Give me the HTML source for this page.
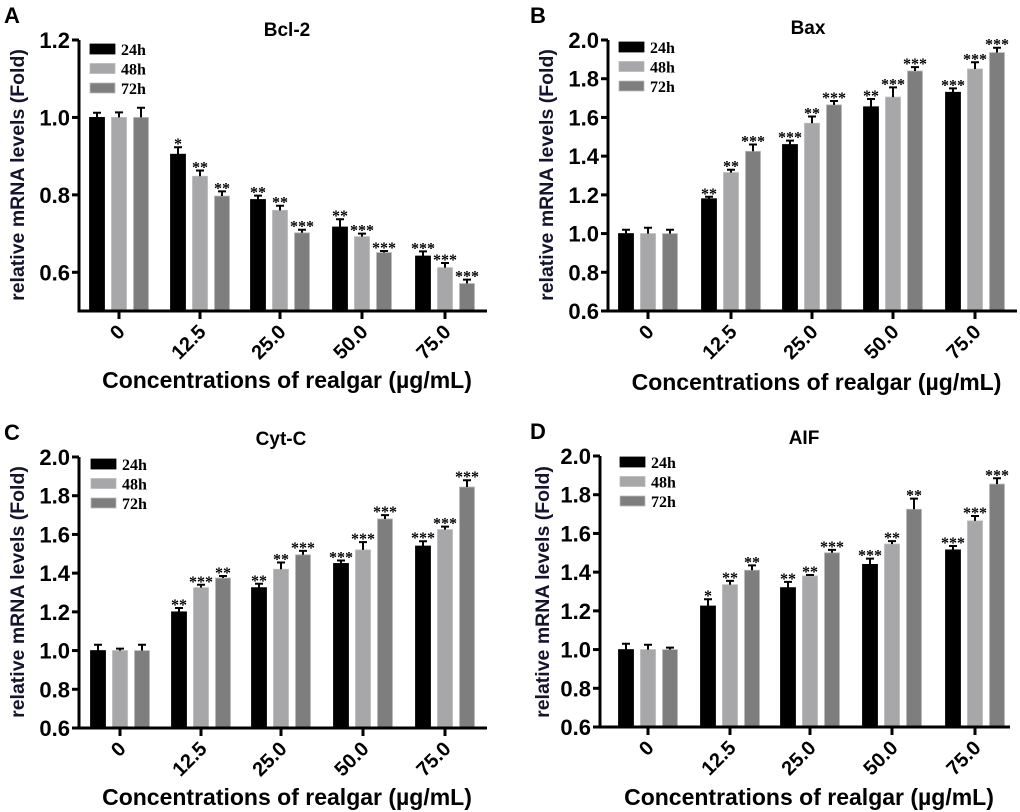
<!DOCTYPE html>
<html><head><meta charset="utf-8"><style>
html,body{margin:0;padding:0;background:#fff;}
svg{display:block;}
text{font-family:"Liberation Sans",sans-serif;}
.ser{font-family:"Liberation Serif",serif;font-weight:bold;}
</style></head><body>
<svg id="fig" width="1020" height="812" viewBox="0 0 1020 812"></svg>
<script>
const categories = ["0","12.5","25.0","50.0","75.0"];
const seriesNames = ["24h","48h","72h"];
// Panel A Bcl-2
const bcl2_24 = [1.0,0.905,0.788,0.717,0.642];
const bcl2_48 = [1.0,0.848,0.760,0.692,0.612];
const bcl2_72 = [1.0,0.797,0.702,0.651,0.571];
const bcl2_err24 = [0.012,0.018,0.010,0.020,0.012];
const bcl2_err48 = [0.013,0.015,0.012,0.008,0.012];
const bcl2_err72 = [0.025,0.012,0.008,0.004,0.010];
const bcl2_sig24 = ["","*","**","**","***"];
const bcl2_sig48 = ["","**","**","***","***"];
const bcl2_sig72 = ["","**","***","***","***"];
const bcl2_ticks = [0.6,0.8,1.0,1.2];
// Panel B Bax
const bax_24 = [1.0,1.18,1.46,1.655,1.73];
const bax_48 = [1.0,1.315,1.57,1.705,1.85];
const bax_72 = [1.0,1.425,1.665,1.84,1.935];
const bax_err24 = [0.02,0.01,0.02,0.04,0.02];
const bax_err48 = [0.03,0.015,0.035,0.05,0.035];
const bax_err72 = [0.02,0.035,0.02,0.02,0.025];
const bax_sig24 = ["","**","***","**","***"];
const bax_sig48 = ["","**","**","***","***"];
const bax_sig72 = ["","***","***","***","***"];
// Panel C Cyt-C
const cyt_24 = [1.0,1.2,1.325,1.45,1.54];
const cyt_48 = [1.0,1.325,1.42,1.52,1.625];
const cyt_72 = [1.0,1.375,1.495,1.68,1.845];
const cyt_err24 = [0.03,0.02,0.02,0.015,0.025];
const cyt_err48 = [0.01,0.015,0.035,0.04,0.015];
const cyt_err72 = [0.03,0.01,0.02,0.02,0.035];
const cyt_sig24 = ["","**","**","***","***"];
const cyt_sig48 = ["","***","**","***","***"];
const cyt_sig72 = ["","**","***","***","***"];
// Panel D AIF
const aif_24 = [1.0,1.225,1.32,1.44,1.515];
const aif_48 = [1.0,1.335,1.38,1.545,1.665];
const aif_72 = [1.0,1.41,1.5,1.725,1.855];
const aif_err24 = [0.03,0.035,0.03,0.03,0.02];
const aif_err48 = [0.025,0.02,0.005,0.015,0.025];
const aif_err72 = [0.01,0.025,0.015,0.055,0.03];
const aif_sig24 = ["","*","**","***","***"];
const aif_sig48 = ["","**","**","**","***"];
const aif_sig72 = ["","**","***","**","***"];
const up_ticks = [0.6,0.8,1.0,1.2,1.4,1.6,1.8,2.0];

const colors = ["#000000","#a7a7a9","#7e7e7e"];
const NS = "http://www.w3.org/2000/svg";
const svg = document.getElementById("fig");
function mk(tag, attrs, parent, txt){
  const e = document.createElementNS(NS, tag);
  for (const k in attrs) e.setAttribute(k, attrs[k]);
  if (txt !== undefined) e.textContent = txt;
  (parent||svg).appendChild(e);
  return e;
}

const panels = [
  {id:"a", letter:"A", title:"Bcl-2", ax:79, x1:487, yTop:40, yBot:311, vTop:1.2, vBot:0.5, ticks:bcl2_ticks,
   cats:[119,200,280,362,445], titleX:287, titleY:40, lx:90, ly:44, ylabX:24, ylabY:175, xtY:388,
   vals:[bcl2_24,bcl2_48,bcl2_72], errs:[bcl2_err24,bcl2_err48,bcl2_err72], sigs:[bcl2_sig24,bcl2_sig48,bcl2_sig72]},
  {id:"b", letter:"B", title:"Bax", ax:608, x1:1017, yTop:40, yBot:311, vTop:2.0, vBot:0.6, ticks:up_ticks,
   cats:[648,731,812,893,975], titleX:808, titleY:38, lx:619, ly:42, ylabX:553, ylabY:175, xtY:390,
   vals:[bax_24,bax_48,bax_72], errs:[bax_err24,bax_err48,bax_err72], sigs:[bax_sig24,bax_sig48,bax_sig72]},
  {id:"c", letter:"C", title:"Cyt-C", ax:79, x1:487, yTop:457, yBot:728, vTop:2.0, vBot:0.6, ticks:up_ticks,
   cats:[120,201,281,363,445], titleX:281, titleY:449, lx:91, ly:459, ylabX:24, ylabY:592, xtY:805,
   vals:[cyt_24,cyt_48,cyt_72], errs:[cyt_err24,cyt_err48,cyt_err72], sigs:[cyt_sig24,cyt_sig48,cyt_sig72]},
  {id:"d", letter:"D", title:"AIF", ax:600, x1:1010, yTop:456, yBot:727, vTop:2.0, vBot:0.6, ticks:up_ticks,
   cats:[648,730,810,892,975], titleX:804, titleY:448, lx:620, ly:457, ylabX:549, ylabY:592, xtY:805,
   vals:[aif_24,aif_48,aif_72], errs:[aif_err24,aif_err48,aif_err72], sigs:[aif_sig24,aif_sig48,aif_sig72]}
];

panels.forEach(p => {
  const g = mk("g", {});
  
  
  const y = v => p.yBot - (v - p.vBot) / (p.vTop - p.vBot) * (p.yBot - p.yTop);
  const letterX = p.ax < 300 ? 4 : 530;
  const lt = mk("text", {x:letterX, y:p.yTop - 17, "font-size":22, "font-weight":"bold"}, g, p.letter);
  
  
  const tt = mk("text", {x:p.titleX, y:p.titleY - 4, "font-size":19, "font-weight":"bold", "text-anchor":"middle"}, g, p.title);
  
  
  // bars
  const offs = [-22, 0, 22];
  for (let s = 0; s < 3; s++) {
    for (let i = 0; i < categories.length; i++) {
      const cx = p.cats[i] + offs[s];
      const top = y(p.vals[s][i]);
      const r = mk("rect", {x:cx - 7.5, y:top, width:15, height:p.yBot - top, fill:colors[s], stroke:s===0?"#000":"#bbb", "stroke-width":0.8}, g);
      
      
      const et = y(p.vals[s][i] + p.errs[s][i]);
      const e = mk("path", {d:`M${cx} ${top} V${et} M${cx-4} ${et} H${cx+4}`, stroke:"#000", "stroke-width":2, fill:"none"}, g);
      
      
      if (p.sigs[s][i]) {
        const st = mk("text", {x:cx, y:et + 2, "font-size":16, "text-anchor":"middle", class:"ser"}, g, p.sigs[s][i]);
        
        
      }
    }
  }
  // axes
  const ya = mk("line", {x1:p.ax, y1:p.yTop, x2:p.ax, y2:p.yBot + 1.5, stroke:"#000", "stroke-width":3}, g);
  
  
  const xa = mk("line", {x1:p.ax - 1.5, y1:p.yBot, x2:p.x1, y2:p.yBot, stroke:"#000", "stroke-width":3}, g);
  
  
  p.ticks.forEach(t => {
    const ty = y(t);
    mk("line", {x1:p.ax - 7, y1:ty, x2:p.ax, y2:ty, stroke:"#000", "stroke-width":3}, g);
    const tl = mk("text", {x:p.ax - 9, y:ty + 8, "font-size":22, "font-weight":"bold", "text-anchor":"end"}, g, t.toFixed(1));
    
    
  });
  categories.forEach((c, i) => {
    const cx = p.cats[i];
    mk("line", {x1:cx, y1:p.yBot, x2:cx, y2:p.yBot + 8, stroke:"#000", "stroke-width":3}, g);
    const tx = cx + 7, ty = p.yBot + 22;
    const tl = mk("text", {x:tx, y:ty, "font-size":20, "font-weight":"bold", "text-anchor":"end", transform:`rotate(-45 ${tx} ${ty})`}, g, c);
    
    
  });
  const xt = mk("text", {x:(p.ax + p.x1) / 2 + 4, y:p.xtY, "font-size":23, "font-weight":"bold", "text-anchor":"middle"}, g, "Concentrations of realgar (µg/mL)");
  
  
  const yt = mk("text", {x:p.ylabX, y:p.ylabY, "font-size":19.5, "font-weight":"bold", "text-anchor":"middle", fill:"#14142e", transform:`rotate(-90 ${p.ylabX} ${p.ylabY})`}, g, "relative mRNA levels (Fold)");
  
  
  // legend
  seriesNames.forEach((n, s) => {
    const ly = p.ly + s * 19.5;
    const sw = mk("rect", {x:p.lx, y:ly, width:25, height:10, fill:colors[s], stroke:s===0?"#000":"#bbb", "stroke-width":0.8}, g);
    
    
    const lt2 = mk("text", {x:p.lx + 31, y:ly + 11, "font-size":16, class:"ser"}, g, n);
    
    
  });
});
</script>
</body></html>
